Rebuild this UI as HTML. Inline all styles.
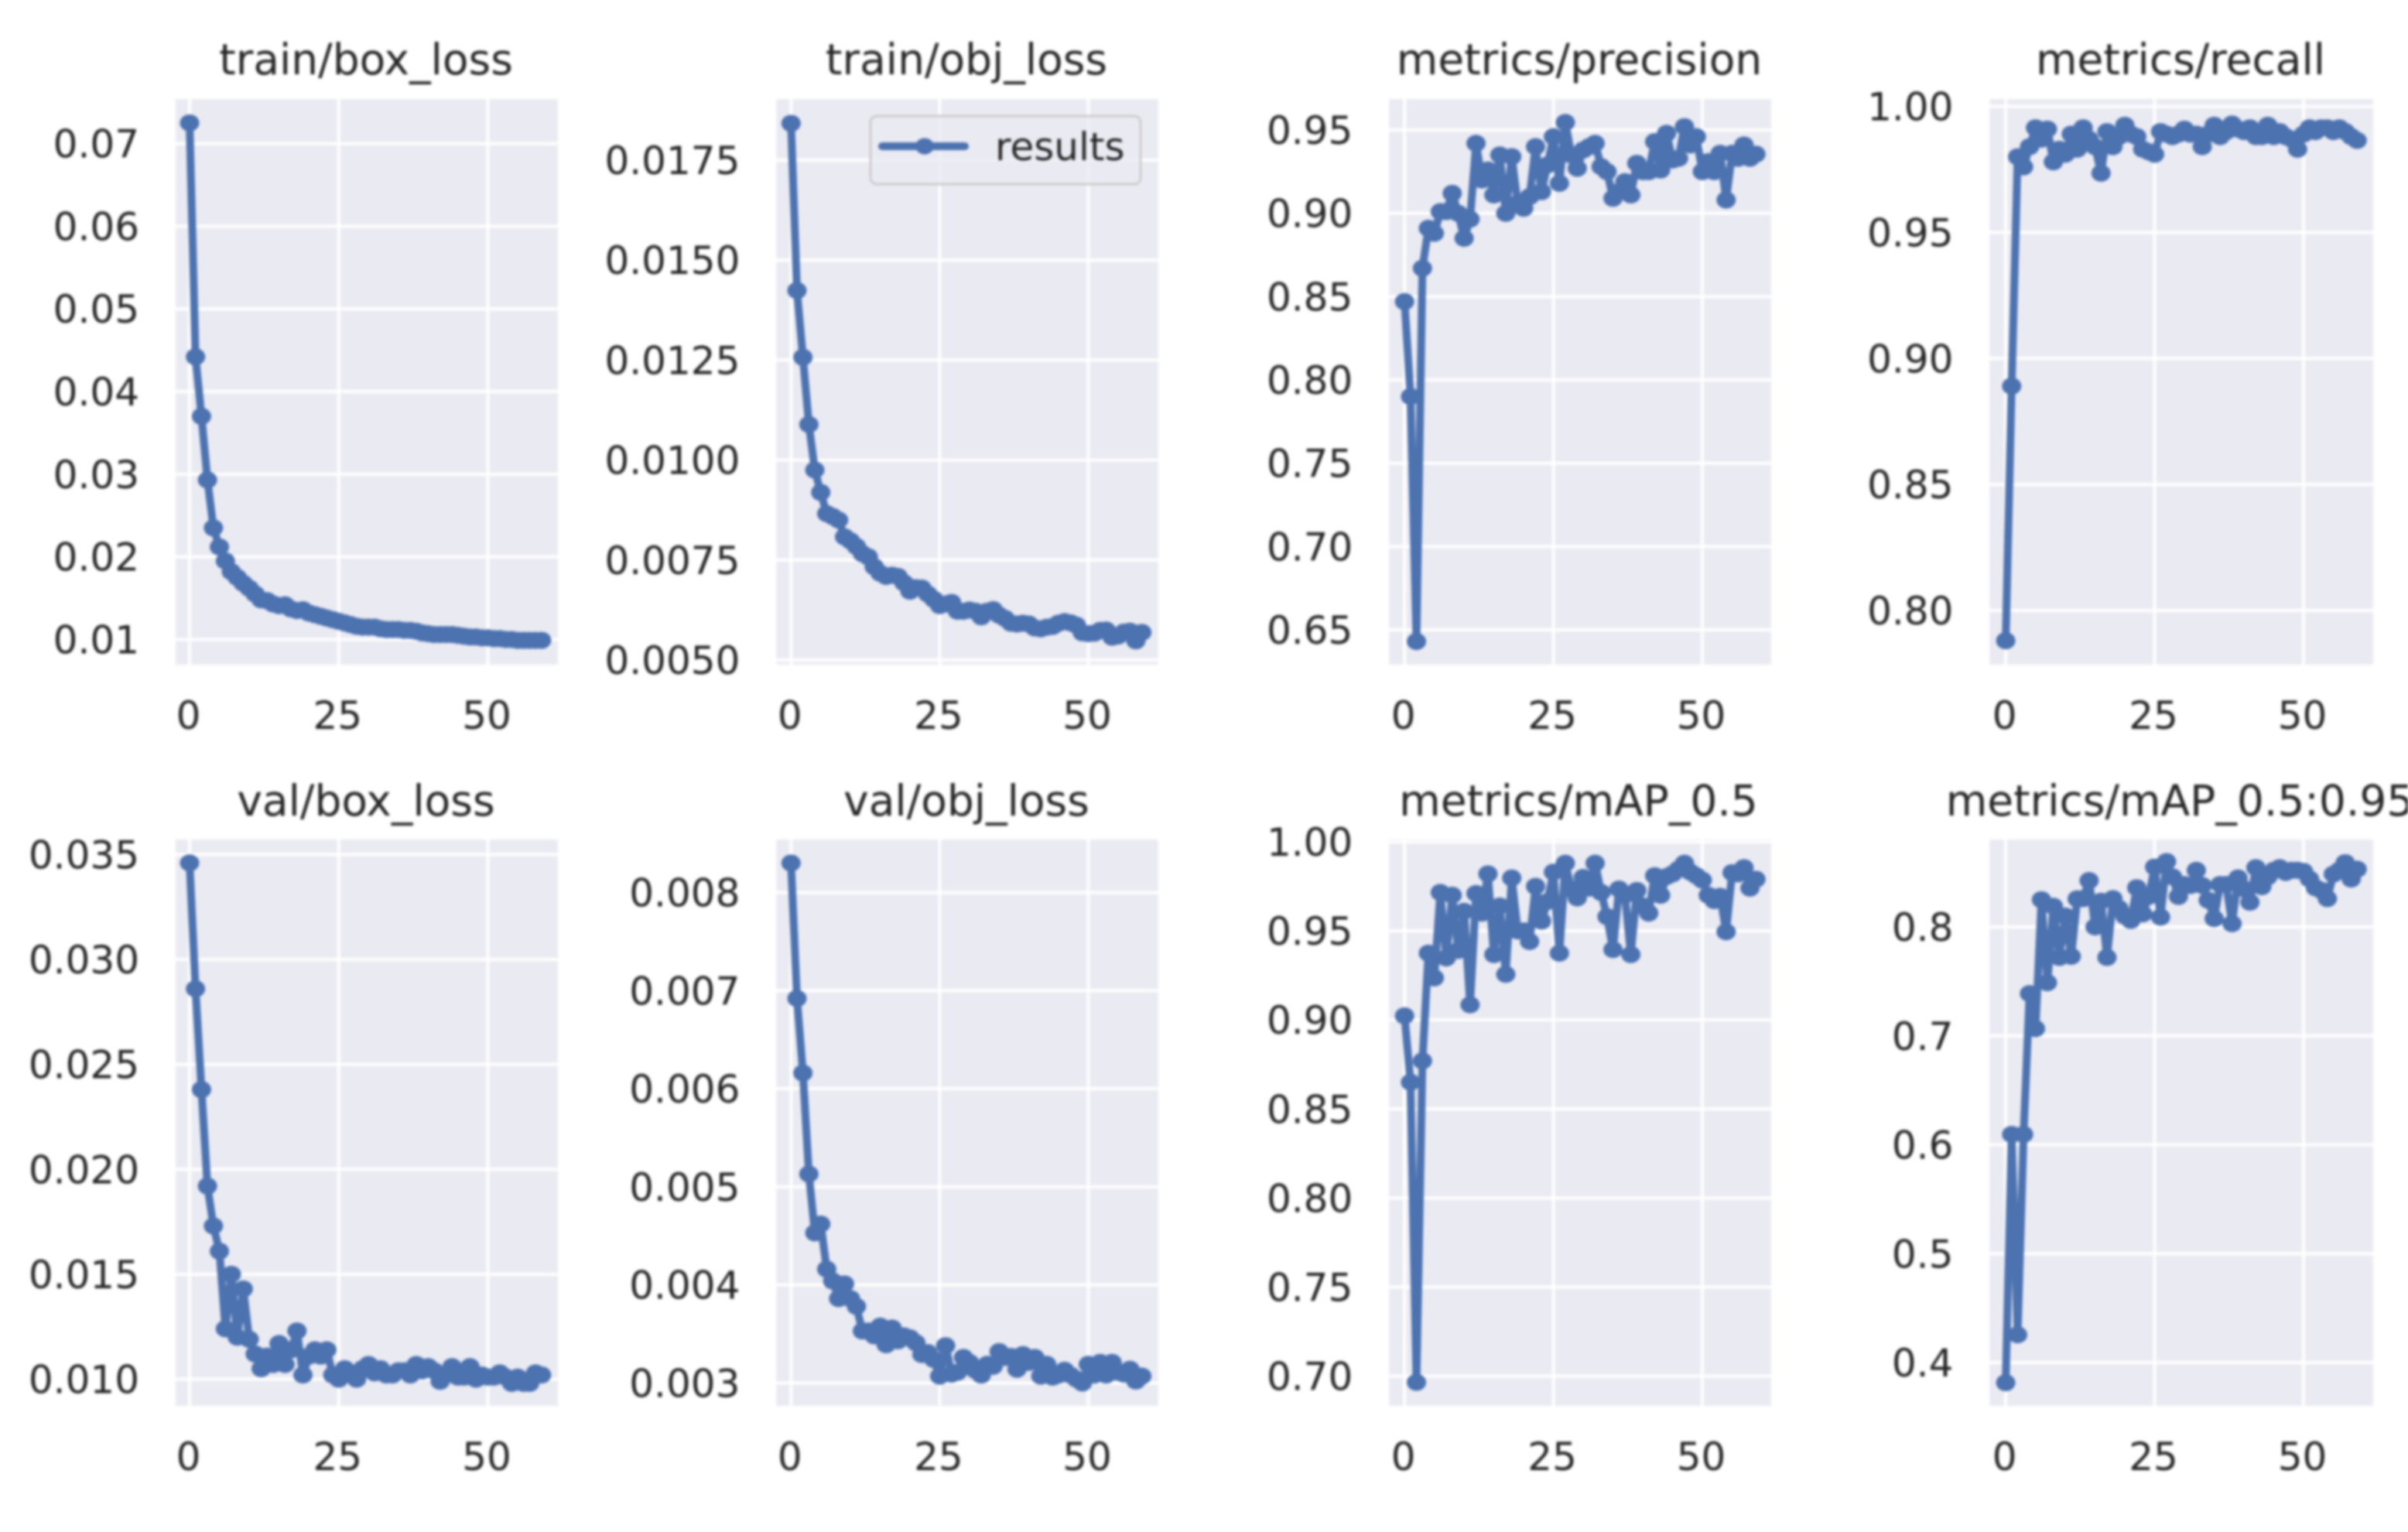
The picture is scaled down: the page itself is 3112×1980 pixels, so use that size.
<!DOCTYPE html>
<html lang="en">
<head>
<meta charset="utf-8">
<title>Training results</title>
<style>
html,body{margin:0;padding:0;background:#fff;width:3112px;height:1980px;overflow:hidden}
svg{display:block;filter:blur(1.7px)}
text{font-family:"DejaVu Sans","Liberation Sans",sans-serif;fill:#262626}
.tick{font-size:50px}
.title{font-size:55px;text-anchor:middle}
</style>
</head>
<body>
<svg id="chart" xmlns="http://www.w3.org/2000/svg" width="3112" height="1980" viewBox="0 0 3112 1980">
  <rect width="3112" height="1980" fill="#ffffff"/>
  <g id="p-train-box"><text class="title" x="473" y="96">train/box_loss</text></g>
  <g id="p-train-obj"><text class="title" x="1249" y="96">train/obj_loss</text></g>
  <g id="p-precision"><text class="title" x="2041" y="96">metrics/precision</text></g>
  <g id="p-recall"><text class="title" x="2818" y="96">metrics/recall</text></g>
  <g id="p-val-box"><text class="title" x="473" y="1054">val/box_loss</text></g>
  <g id="p-val-obj"><text class="title" x="1249" y="1054">val/obj_loss</text></g>
  <g id="p-map50"><text class="title" x="2040" y="1054">metrics/mAP_0.5</text></g>
  <g id="p-map95"><text class="title" x="2817" y="1054">metrics/mAP_0.5:0.95</text></g>
  <g id="legend">
    <rect x="1125" y="150" width="349" height="88" rx="8" ry="8" fill="#eaeaf2" fill-opacity="0.8" stroke="#cccccc" stroke-width="3"/>
    <line x1="1140" y1="189" x2="1247" y2="189" stroke="#4c72b0" stroke-width="10" stroke-linecap="round"/>
    <ellipse cx="1195" cy="189" rx="12" ry="10.5" fill="#4c72b0"/>
    <text class="tick" x="1286" y="207">results</text>
  </g>
</svg>
<script>
const epochs = [0,1,2,3,4,5,6,7,8,9,10,11,12,13,14,15,16,17,18,19,20,21,22,23,24,25,26,27,28,29,30,31,32,33,34,35,36,37,38,39,40,41,42,43,44,45,46,47,48,49,50,51,52,53,54,55,56,57,58,59];
const xTickLabels = ['0','25','50'];

const trainBoxLoss = [0.0725,0.0442,0.0370,0.0293,0.0235,0.0212,0.0195,0.0182,0.0175,0.0168,0.0162,0.0155,0.0148,0.0147,0.0143,0.0141,0.0142,0.0137,0.0135,0.0136,0.0132,0.0130,0.0128,0.0126,0.0124,0.0122,0.0120,0.0118,0.0116,0.0115,0.0115,0.0115,0.0113,0.0112,0.0112,0.0112,0.0111,0.0111,0.0110,0.0108,0.0107,0.0106,0.0106,0.0106,0.0106,0.0105,0.0104,0.0103,0.0103,0.0102,0.0102,0.0101,0.0101,0.0100,0.0100,0.0099,0.0099,0.0099,0.0099,0.0099];
const trainObjLoss = [0.01842,0.01424,0.01257,0.01089,0.00975,0.00919,0.00866,0.00859,0.00850,0.00808,0.00798,0.00784,0.00766,0.00758,0.00733,0.00717,0.00709,0.00712,0.00709,0.00693,0.00672,0.00681,0.00680,0.00665,0.00652,0.00636,0.00640,0.00644,0.00622,0.00622,0.00625,0.00622,0.00608,0.00622,0.00626,0.00612,0.00604,0.00592,0.00590,0.00592,0.00590,0.00580,0.00578,0.00582,0.00584,0.00592,0.00596,0.00593,0.00587,0.00568,0.00566,0.00567,0.00574,0.00575,0.00557,0.00560,0.00570,0.00572,0.00548,0.00569];
const precision = [0.847,0.790,0.643,0.867,0.891,0.888,0.901,0.901,0.912,0.900,0.885,0.8965,0.942,0.920,0.926,0.911,0.935,0.900,0.934,0.906,0.903,0.910,0.940,0.913,0.929,0.946,0.918,0.9545,0.935,0.927,0.938,0.940,0.942,0.928,0.925,0.909,0.913,0.919,0.911,0.930,0.925,0.925,0.943,0.926,0.948,0.932,0.933,0.952,0.941,0.946,0.925,0.931,0.925,0.936,0.908,0.936,0.933,0.941,0.933,0.9355];
const recall = [0.788,0.889,0.980,0.976,0.984,0.9915,0.987,0.991,0.978,0.983,0.981,0.989,0.983,0.9915,0.987,0.984,0.9735,0.990,0.984,0.988,0.9925,0.989,0.988,0.983,0.982,0.981,0.990,0.989,0.988,0.989,0.991,0.989,0.989,0.984,0.989,0.9925,0.988,0.990,0.993,0.991,0.990,0.9915,0.988,0.988,0.9925,0.988,0.990,0.988,0.987,0.983,0.989,0.9915,0.990,0.9915,0.9915,0.990,0.9915,0.990,0.988,0.9865];
const valBoxLoss = [0.0346,0.0286,0.0238,0.0192,0.0173,0.0161,0.0124,0.0150,0.0120,0.0143,0.0119,0.0112,0.0105,0.0111,0.0107,0.0117,0.0107,0.0114,0.0123,0.0102,0.0111,0.0114,0.0111,0.0114,0.0102,0.0100,0.0105,0.0103,0.0100,0.0105,0.0107,0.0103,0.0105,0.0102,0.0102,0.0104,0.0104,0.0102,0.0107,0.0104,0.0106,0.0104,0.0099,0.0102,0.0106,0.0101,0.0101,0.0106,0.0100,0.0102,0.0101,0.0101,0.0103,0.0101,0.0098,0.0101,0.0098,0.0098,0.0103,0.0102];
const valObjLoss = [0.0083,0.00692,0.00616,0.00513,0.00453,0.00462,0.00416,0.00404,0.00386,0.00401,0.00386,0.00378,0.00353,0.00353,0.00348,0.00358,0.00339,0.00356,0.00343,0.00348,0.00346,0.00341,0.00329,0.00331,0.00324,0.00307,0.00338,0.00309,0.00311,0.00326,0.00321,0.00313,0.00308,0.00319,0.00317,0.00332,0.00326,0.00327,0.00314,0.00329,0.00321,0.00326,0.00307,0.00319,0.00306,0.00308,0.00313,0.00308,0.00304,0.00300,0.00319,0.00308,0.00321,0.00308,0.00321,0.00311,0.00309,0.00314,0.00302,0.00307];
const map50 = [0.9023,0.865,0.6965,0.877,0.9375,0.9236,0.9716,0.9348,0.970,0.939,0.961,0.9085,0.971,0.960,0.982,0.9367,0.964,0.9256,0.9797,0.950,0.950,0.944,0.975,0.9555,0.9665,0.983,0.9375,0.988,0.9735,0.9685,0.980,0.974,0.988,0.9716,0.958,0.9395,0.9735,0.970,0.9367,0.9727,0.964,0.960,0.981,0.970,0.9805,0.982,0.9846,0.988,0.983,0.981,0.9785,0.970,0.967,0.9694,0.9495,0.9827,0.982,0.9855,0.974,0.979];
const map5095 = [0.3815,0.6095,0.4255,0.6095,0.7388,0.7066,0.825,0.7488,0.819,0.772,0.810,0.773,0.8258,0.826,0.8426,0.800,0.8236,0.772,0.826,0.817,0.810,0.806,0.836,0.812,0.828,0.855,0.809,0.860,0.846,0.828,0.839,0.838,0.852,0.838,0.8245,0.8077,0.839,0.839,0.803,0.845,0.835,0.8227,0.8544,0.837,0.846,0.852,0.8544,0.850,0.852,0.852,0.851,0.844,0.836,0.8336,0.826,0.8485,0.852,0.859,0.844,0.853];

const trainBoxTicks = ['0.01','0.02','0.03','0.04','0.05','0.06','0.07'];
const trainObjTicks = ['0.0050','0.0075','0.0100','0.0125','0.0150','0.0175'];
const precisionTicks = ['0.65','0.70','0.75','0.80','0.85','0.90','0.95'];
const recallTicks = ['0.80','0.85','0.90','0.95','1.00'];
const valBoxTicks = ['0.010','0.015','0.020','0.025','0.030','0.035'];
const valObjTicks = ['0.003','0.004','0.005','0.006','0.007','0.008'];
const map50Ticks = ['0.70','0.75','0.80','0.85','0.90','0.95','1.00'];
const map5095Ticks = ['0.4','0.5','0.6','0.7','0.8'];

const SVG_NS = 'http://www.w3.org/2000/svg';
const BLUE = '#4c72b0';

function make(tag, attrs, parent) {
  const el = document.createElementNS(SVG_NS, tag);
  for (const k in attrs) el.setAttribute(k, attrs[k]);
  parent.appendChild(el);
  return el;
}

function drawPanel(id, box, calib, values, yTickLabels) {
  const g = document.getElementById(id);
  const xScale = v => box.x0 + (v / 50) * (box.x50 - box.x0);
  const yScale = v => calib.pxA + (v - calib.valA) / (calib.valB - calib.valA) * (calib.pxB - calib.pxA);

  const bg = make('rect', {x: box.left, y: box.top, width: box.right - box.left, height: box.bottom - box.top, fill: '#eaeaf2'}, g);
  
  

  yTickLabels.forEach(label => {
    const y = yScale(parseFloat(label));
    const grid = make('line', {x1: box.left, x2: box.right, y1: y, y2: y, stroke: '#ffffff', 'stroke-width': 4}, g);
    
    
    const t = make('text', {class: 'tick', x: box.left - 47, y: y + 18, 'text-anchor': 'end'}, g);
    
    
    t.textContent = label;
  });

  xTickLabels.forEach(label => {
    const x = xScale(parseFloat(label));
    const grid = make('line', {x1: x, x2: x, y1: box.top, y2: box.bottom, stroke: '#ffffff', 'stroke-width': 4}, g);
    
    
    const t = make('text', {class: 'tick', x: x - 1.5, y: box.bottom + 83, 'text-anchor': 'middle'}, g);
    
    
    t.textContent = label;
  });

  const points = values.map((v, i) => xScale(epochs[i]).toFixed(1) + ',' + yScale(v).toFixed(1)).join(' ');
  const line = make('polyline', {points: points, fill: 'none', stroke: BLUE, 'stroke-width': 10, 'stroke-linejoin': 'round'}, g);
  
  

  values.forEach((v, i) => {
    const dot = make('ellipse', {cx: xScale(epochs[i]), cy: yScale(v), rx: 12.5, ry: 11, fill: BLUE}, g);
    
    
  });
}

const col1 = {left: 227, right: 721, x0: 245, x50: 630.5};
const col2 = {left: 1003.4, right: 1496.7, x0: 1022.3, x50: 1406.5};
const col3 = {left: 1795.3, right: 2289, x0: 1815.2, x50: 2200};
const col4 = {left: 2571.4, right: 3067, x0: 2592.1, x50: 2977};
const row1 = {top: 128, bottom: 859};
const row2 = {top: 1085, bottom: 1817};

drawPanel('p-train-box', {...col1, ...row1}, {valA: 0.01, pxA: 826.5, valB: 0.07, pxB: 185.6}, trainBoxLoss, trainBoxTicks);
drawPanel('p-train-obj', {...col2, ...row1}, {valA: 0.005, pxA: 853, valB: 0.0175, pxB: 207}, trainObjLoss, trainObjTicks);
drawPanel('p-precision', {...col3, ...row1}, {valA: 0.65, pxA: 814, valB: 0.95, pxB: 168}, precision, precisionTicks);
drawPanel('p-recall', {...col4, ...row1}, {valA: 0.80, pxA: 789, valB: 1.00, pxB: 137.5}, recall, recallTicks);
drawPanel('p-val-box', {...col1, ...row2}, {valA: 0.010, pxA: 1782.5, valB: 0.035, pxB: 1104.4}, valBoxLoss, valBoxTicks);
drawPanel('p-val-obj', {...col2, ...row2}, {valA: 0.003, pxA: 1787.4, valB: 0.008, pxB: 1153.5}, valObjLoss, valObjTicks);
drawPanel('p-map50', {...col3, ...row2}, {valA: 0.70, pxA: 1778.5, valB: 1.00, pxB: 1088}, map50, map50Ticks);
drawPanel('p-map95', {...col4, ...row2}, {valA: 0.4, pxA: 1761, valB: 0.8, pxB: 1198}, map5095, map5095Ticks);
</script>
</body>
</html>
